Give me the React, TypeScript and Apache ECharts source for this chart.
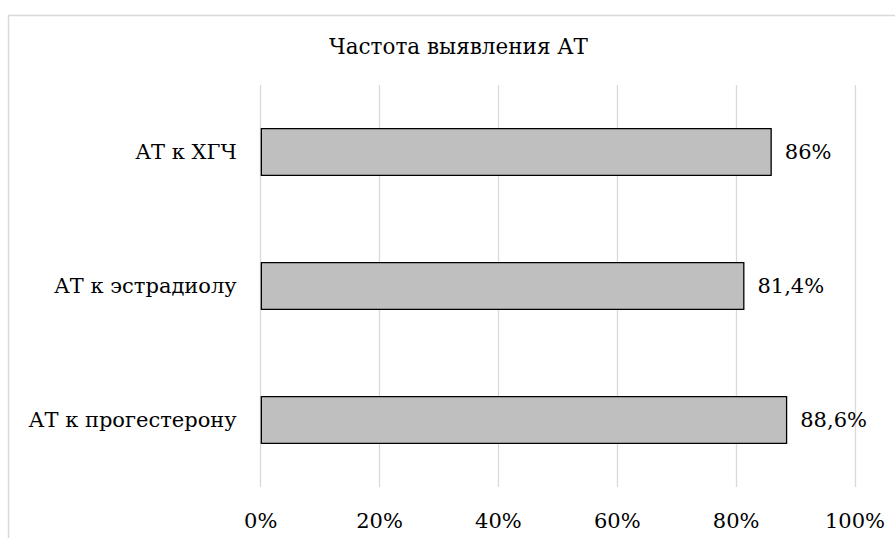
import React, { useEffect, useRef } from "react";
import * as echarts from "echarts";

const titleText = "Частота выявления АТ";
const categories = ["АТ к ХГЧ", "АТ к эстрадиолу", "АТ к прогестерону"];
const values = [86, 81.4, 88.6];
const valueLabels = ["86%", "81,4%", "88,6%"];
const xTicks = [0, 20, 40, 60, 80, 100];

const FONT = "DejaVu Serif";

export default function App() {
  const ref = useRef<HTMLDivElement>(null);
  useEffect(() => {
    if (!ref.current) return;
    const chart = echarts.init(ref.current, null, { renderer: "svg" });
    chart.setOption({
      animation: false,
      backgroundColor: "#ffffff",
      textStyle: { fontFamily: FONT },
      title: {
        text: titleText,
        left: 458.5,
        top: 35.5,
        padding: 0,
        textAlign: "center",
        textStyle: { fontFamily: FONT, fontSize: 21.5, fontWeight: "normal", color: "#000" },
      },
      graphic: [
        {
          type: "rect",
          shape: { x: 8.5, y: 15.5, width: 900, height: 540 },
          style: { fill: "none", stroke: "#d9d9d9", lineWidth: 1.5 },
          silent: true,
          z: -1,
        },
      ],
      grid: { left: 260.7, right: 40, top: 85, bottom: 51, containLabel: false },
      xAxis: {
        type: "value",
        min: 0,
        max: 100,
        interval: 20,
        axisLine: { show: false },
        axisTick: { show: false },
        splitLine: { show: true, lineStyle: { color: "#d9d9d9", width: 1.3 } },
        axisLabel: {
          margin: 23,
          fontFamily: FONT,
          fontSize: 21,
          color: "#000",
          formatter: (v: number) => (xTicks.includes(v) ? v + "%" : ""),
        },
      },
      yAxis: {
        type: "category",
        data: categories,
        inverse: true,
        axisLine: { show: false },
        axisTick: { show: false },
        axisLabel: { margin: 24, fontFamily: FONT, fontSize: 21, color: "#000" },
      },
      series: [
        {
          type: "bar",
          data: values,
          barWidth: 48,
          itemStyle: { color: "#bfbfbf", borderColor: "#000", borderWidth: 1.3 },
          label: {
            show: true,
            position: "right",
            distance: 13,
            fontFamily: FONT,
            fontSize: 21,
            color: "#000",
            formatter: (p: any) => valueLabels[p.dataIndex],
          },
        },
      ],
    });
    return () => chart.dispose();
  }, []);
  return (
    <div
      ref={ref}
      style={{ position: "fixed", left: 0, top: 0, width: 895, height: 538 }}
    />
  );
}
